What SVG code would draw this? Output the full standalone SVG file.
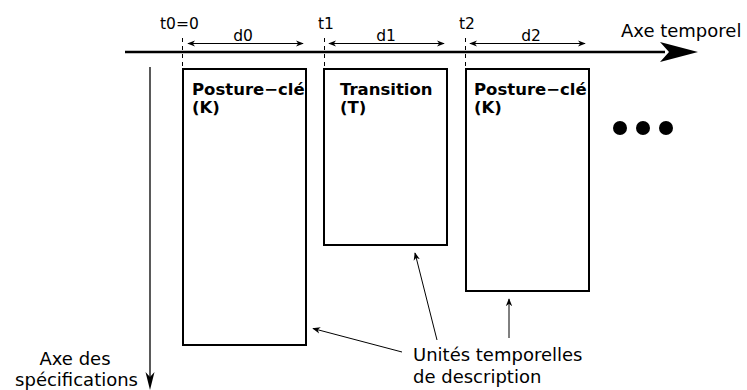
<svg xmlns="http://www.w3.org/2000/svg" width="747" height="390" viewBox="0 0 747 390">
<style>
text{font-family:"DejaVu Sans",sans-serif;fill:#000}
.lbl{font-size:15.5px}
.big{font-size:18px}
.bold{font-size:16.5px;font-weight:bold}
.box{fill:#fff;stroke:#000;stroke-width:2}
.dash{stroke:#000;stroke-width:1;stroke-dasharray:4,4}
.thin{stroke:#000;stroke-width:1;fill:none}
</style>
<defs>
<marker id="sa" viewBox="0 0 10 10" refX="9" refY="5" markerWidth="8" markerHeight="8" markerUnits="userSpaceOnUse" orient="auto-start-reverse">
<path d="M0,1 L10,5 L0,9 L3,5 Z" fill="#000"/>
</marker>
</defs>
<g id="axes">
<line x1="125" y1="52" x2="665" y2="52" stroke="#000" stroke-width="2.5"/>
<path d="M660,42 L698,52 L660,62 L669,52 Z" fill="#000"/>
<text class="big" x="621" y="37">Axe temporel</text>
<line x1="150" y1="67" x2="150" y2="380" stroke="#000" stroke-width="1.3"/>
<path d="M145.5,372 L150,390 L154.5,372 L150,377 Z" fill="#000"/>
<text class="big" x="75" y="365" text-anchor="middle">Axe des</text>
<text class="big" x="138" y="386" text-anchor="end">spécifications</text>
</g>
<g id="ticks">
<line class="dash" x1="182.5" y1="38" x2="182.5" y2="66"/>
<line class="dash" x1="324.5" y1="38" x2="324.5" y2="66"/>
<line class="dash" x1="465.5" y1="38" x2="465.5" y2="66"/>
<text class="lbl" x="160" y="29">t0=0</text>
<text class="lbl" x="318" y="29">t1</text>
<text class="lbl" x="459" y="29">t2</text>
<line class="thin" x1="188" y1="43.5" x2="303" y2="43.5" marker-start="url(#sa)" marker-end="url(#sa)"/>
<line class="thin" x1="329" y1="43.5" x2="444" y2="43.5" marker-start="url(#sa)" marker-end="url(#sa)"/>
<line class="thin" x1="470" y1="43.5" x2="585" y2="43.5" marker-start="url(#sa)" marker-end="url(#sa)"/>
<text class="lbl" x="243" y="41" text-anchor="middle">d0</text>
<text class="lbl" x="386" y="41" text-anchor="middle">d1</text>
<text class="lbl" x="531" y="41" text-anchor="middle">d2</text>
</g>
<g id="k0">
<rect class="box" x="183" y="69" width="123" height="276"/>
<text class="bold" x="192" y="95">Posture−clé</text>
<text class="bold" x="192" y="113">(K)</text>
</g>
<g id="t1node">
<rect class="box" x="324" y="69" width="123" height="176"/>
<text class="bold" x="340" y="95">Transition</text>
<text class="bold" x="340" y="113">(T)</text>
</g>
<g id="k2">
<rect class="box" x="466" y="69" width="123" height="222"/>
<text class="bold" x="474" y="95">Posture−clé</text>
<text class="bold" x="474" y="113">(K)</text>
</g>
<g id="dots">
<circle cx="620" cy="128" r="7"/>
<circle cx="643" cy="128" r="7"/>
<circle cx="666" cy="128" r="7"/>
</g>
<g id="label">
<text class="big" x="413" y="361">Unités temporelles</text>
<text class="big" x="413" y="383">de description</text>
</g>
<g id="connectors">
<line class="thin" x1="402" y1="352" x2="313" y2="328.5" marker-end="url(#sa)"/>
<line class="thin" x1="437" y1="340" x2="415" y2="253" marker-end="url(#sa)"/>
<line class="thin" x1="509" y1="338" x2="509" y2="299" marker-end="url(#sa)"/>
</g>
</svg>
